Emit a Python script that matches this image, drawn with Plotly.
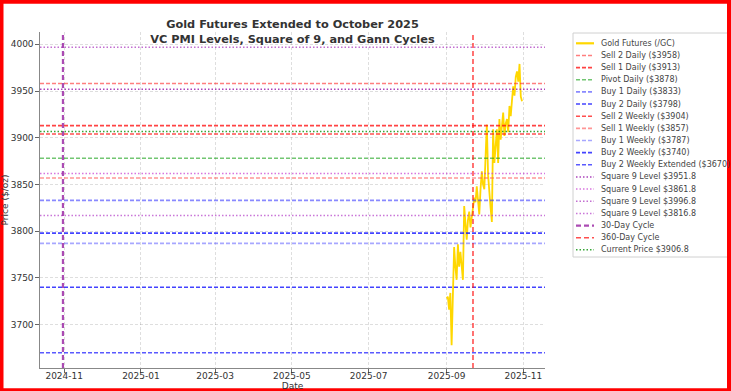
import plotly.graph_objects as go
import pandas as pd

# ---------------- data ----------------
gold_start = "2025-09-01"
gold_prices = [3728, 3730, 3716, 3734, 3678, 3745, 3783, 3762, 3748, 3786,
               3762, 3778, 3765, 3748, 3827, 3802, 3791, 3812, 3821, 3804,
               3818, 3825, 3836, 3831, 3848, 3830, 3818, 3845, 3864, 3850,
               3845, 3880, 3914, 3860, 3837, 3825, 3810, 3909, 3873, 3890,
               3909, 3873, 3920, 3898, 3910, 3927, 3902, 3915, 3920, 3906,
               3934, 3923, 3940, 3955, 3945, 3965, 3971, 3960, 3979, 3944,
               3939]
gold_name = "Gold Futures (/GC)"

level_names = ["Sell 2 Daily ($3958)", "Sell 1 Daily ($3913)", "Pivot Daily ($3878)",
               "Buy 1 Daily ($3833)", "Buy 2 Daily ($3798)", "Sell 2 Weekly ($3904)",
               "Sell 1 Weekly ($3857)", "Buy 1 Weekly ($3787)", "Buy 2 Weekly ($3740)",
               "Buy 2 Weekly Extended ($3670)"]
level_values = [3958, 3913, 3878, 3833, 3798, 3904, 3857, 3787, 3740, 3670]

square9_names = ["Square 9 Level $3951.8", "Square 9 Level $3861.8",
                 "Square 9 Level $3996.8", "Square 9 Level $3816.8"]
square9_values = [3951.8, 3861.8, 3996.8, 3816.8]

cycle_names = ["30-Day Cycle", "360-Day Cycle"]
cycle_dates = ["2024-10-31", "2025-09-22"]

current_name = "Current Price $3906.8"
current_price = 3906.8

y_ticks = [3700, 3750, 3800, 3850, 3900, 3950, 4000]

# ---------------- styles ----------------
DASH = "4px,2px"
DOT = "1.5px,2px"
LW = 1.6
gold_style = dict(color="#FFD700", width=1.8, dash="solid")
level_styles = [
    dict(color="rgba(255,40,40,0.6)", width=LW, dash=DASH),
    dict(color="rgba(255,20,20,0.8)", width=LW, dash=DASH),
    dict(color="rgba(20,160,20,0.6)", width=LW, dash=DASH),
    dict(color="rgba(40,40,255,0.55)", width=LW, dash=DASH),
    dict(color="rgba(20,20,255,0.8)", width=LW, dash=DASH),
    dict(color="rgba(255,20,20,0.75)", width=LW, dash=DASH),
    dict(color="rgba(255,80,80,0.6)", width=LW, dash=DASH),
    dict(color="rgba(80,80,255,0.5)", width=LW, dash=DASH),
    dict(color="rgba(20,20,255,0.8)", width=LW, dash=DASH),
    dict(color="rgba(20,20,255,0.7)", width=LW, dash=DASH),
]
square9_styles = [
    dict(color="rgba(150,20,170,0.8)", width=1.5, dash=DOT),
    dict(color="rgba(200,60,210,0.7)", width=1.5, dash=DOT),
    dict(color="rgba(170,50,190,0.7)", width=1.5, dash=DOT),
    dict(color="rgba(180,60,200,0.7)", width=1.5, dash=DOT),
]
cycle_styles = [
    dict(color="rgba(150,30,160,0.8)", width=2.2, dash="5px,3px"),
    dict(color="rgba(255,20,20,0.75)", width=1.6, dash="5px,3px"),
]
current_style = dict(color="rgba(20,150,20,0.85)", width=1.5, dash=DOT)

FONT = "DejaVu Sans"
TXT = "#333333"

# ---------------- geometry ----------------
W, H = 731, 391
L, R, T, B = 40, 186, 32, 23
PW, PH = W - L - R, H - T - B


def px_x(px):
    return (px - L) / PW


def px_y(py):
    return (H - B - py) / PH


gold_dates = pd.date_range(gold_start, periods=len(gold_prices), freq="D")
cyc_ts = [pd.Timestamp(d) for d in cycle_dates]
x_lo = min(min(cyc_ts), gold_dates[0])
x_hi = max(max(cyc_ts), gold_dates[-1])
x_span = x_hi - x_lo
x_range = [x_lo - 0.05 * x_span, x_hi + 0.05 * x_span]

all_y = list(gold_prices) + level_values + square9_values + [current_price]
y_lo, y_hi = min(all_y), max(all_y)
y_pad = 0.05 * (y_hi - y_lo)
y_range = [y_lo - y_pad, y_hi + y_pad]

fig = go.Figure()

legend_items = []

fig.add_trace(go.Scatter(x=gold_dates, y=gold_prices, mode="lines", name=gold_name,
                         line=gold_style, showlegend=False))
legend_items.append((gold_name, gold_style))

for name, val, st in zip(level_names, level_values, level_styles):
    fig.add_trace(go.Scatter(x=x_range, y=[val, val], mode="lines", name=name,
                             line=st, showlegend=False, hoverinfo="name"))
    legend_items.append((name, st))

for name, val, st in zip(square9_names, square9_values, square9_styles):
    fig.add_trace(go.Scatter(x=x_range, y=[val, val], mode="lines", name=name,
                             line=st, showlegend=False, hoverinfo="name"))
    legend_items.append((name, st))

for name, d, st in zip(cycle_names, cyc_ts, cycle_styles):
    fig.add_trace(go.Scatter(x=[d, d], y=y_range, mode="lines", name=name,
                             line=st, showlegend=False, hoverinfo="name"))
    legend_items.append((name, st))

fig.add_trace(go.Scatter(x=x_range, y=[current_price, current_price], mode="lines",
                         name=current_name, line=current_style, showlegend=False,
                         hoverinfo="name"))
legend_items.append((current_name, current_style))

shapes = []
annotations = []

# legend box
shapes.append(dict(type="rect", xref="paper", yref="paper",
                   x0=px_x(573), x1=px_x(740), y0=px_y(257), y1=px_y(33),
                   line=dict(color="#d0d0d0", width=1), fillcolor="white", layer="above"))
row0, row_h = 43.3, 12.15
for i, (name, st) in enumerate(legend_items):
    yy = px_y(row0 + i * row_h)
    shapes.append(dict(type="line", xref="paper", yref="paper",
                       x0=px_x(576), x1=px_x(594), y0=yy, y1=yy,
                       line=dict(color=st["color"], width=2.2 if name == gold_name else st["width"],
                                 dash=st["dash"]), layer="above"))
    annotations.append(dict(xref="paper", yref="paper", x=px_x(599), y=yy,
                            xanchor="left", yanchor="middle", showarrow=False,
                            text=name, font=dict(family=FONT, size=8, color="#444444")))

# red frame
red = "#ff0000"
for (a, b, c, d) in [(0, 3.5, 0, H), (727, W + 2, 0, H), (0, W, 0, 3.7), (0, W, 388.3, H + 2)]:
    shapes.append(dict(type="rect", xref="paper", yref="paper",
                       x0=px_x(a), x1=px_x(b), y0=px_y(d), y1=px_y(c),
                       line=dict(width=0), fillcolor=red, layer="above"))

fig.update_layout(
    width=W, height=H,
    margin=dict(l=L, r=R, t=T, b=B, pad=0),
    paper_bgcolor="white", plot_bgcolor="white",
    showlegend=False,
    font=dict(family=FONT, size=9, color=TXT),
    title=dict(text="<b>Gold Futures Extended to October 2025<br>VC PMI Levels, Square of 9, and Gann Cycles</b>",
               x=0.5, xref="paper", xanchor="center",
               y=1, yref="paper", yanchor="bottom", pad=dict(b=4),
               font=dict(family=FONT, size=11.3, color=TXT)),
    shapes=shapes,
    annotations=annotations,
)

fig.update_xaxes(
    range=x_range, type="date", tick0="2024-11-01", dtick="M2", tickformat="%Y-%m",
    showgrid=True, gridcolor="rgba(0,0,0,0.13)", griddash="3px,2px", gridwidth=0.8,
    showline=True, linecolor="#888888", linewidth=1.2, mirror=False,
    ticks="outside", ticklen=3.5, tickwidth=1, tickcolor="#666666",
    ticklabelstandoff=-4,
    tickfont=dict(family=FONT, size=9, color=TXT),
    title=dict(text="Date", standoff=9, font=dict(family=FONT, size=9, color=TXT)),
    zeroline=False, automargin=False,
)
fig.update_yaxes(
    range=y_range, tickvals=y_ticks,
    showgrid=True, gridcolor="rgba(0,0,0,0.13)", griddash="3px,2px", gridwidth=0.8,
    showline=True, linecolor="#888888", linewidth=1.2, mirror=False,
    ticks="outside", ticklen=3.5, tickwidth=1, tickcolor="#666666",
    tickfont=dict(family=FONT, size=9, color=TXT),
    title=dict(text="Price ($/oz)", standoff=3, font=dict(family=FONT, size=9, color=TXT)),
    zeroline=False, automargin=False,
)

fig.write_html("out.html")
